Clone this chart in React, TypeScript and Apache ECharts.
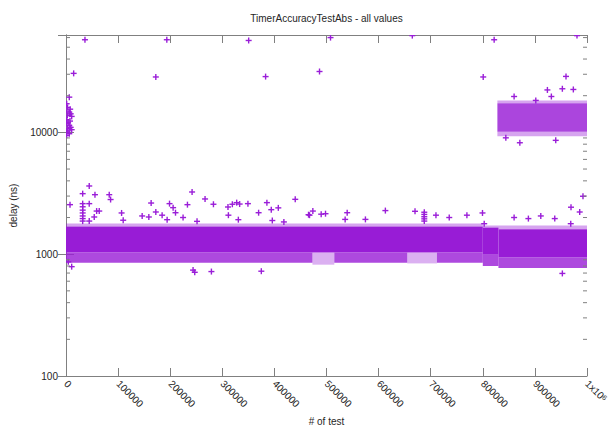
import React, { useEffect, useRef } from 'react';
import * as echarts from 'echarts';

const TITLE = 'TimerAccuracyTestAbs - all values';
const X_NAME = '# of test';
const Y_NAME = 'delay (ns)';
const PURPLE = '#9a1ed8';
const FILL = '#981cd6';
const FRAME = '#808080';
const TEXT = '#262626';

const xTicks = [0, 100000, 200000, 300000, 400000, 500000, 600000, 700000, 800000, 900000, 1000000];
const xTickLabels = ['0', '100000', '200000', '300000', '400000', '500000', '600000', '700000', '800000', '900000', '1x10{sup|6}'];
const yTicks = [100, 1000, 10000];
const yTickLabels = ['100', '1000', '10000'];
const yMinorTicks = [200, 300, 400, 500, 600, 700, 800, 900, 2000, 3000, 4000, 5000, 6000, 7000, 8000, 9000, 20000, 30000, 40000, 50000, 60000];
const X_MAX = 1000000;
const Y_MIN = 100;
const Y_MAX = 63000;

// Densely over-plotted regions: [xFrom, xTo, yFrom, yTo]
const denseCore = [
  [0, 800000, 1030, 1690],
  [800000, 830000, 990, 1650],
  [830000, 1000000, 940, 1600],
];
const denseLowerFringe = [
  [0, 473000, 850, 1030],
  [515000, 655000, 850, 1030],
  [712000, 800000, 850, 1030],
  [800000, 830000, 800, 990],
  [830000, 1000000, 770, 940],
];
const sparseLowerFringe = [
  [473000, 515000, 820, 1030],
  [655000, 712000, 840, 1030],
];
const denseUpperFringe = [
  [0, 800000, 1690, 1790],
  [800000, 1000000, 1600, 1720],
];
const denseClusters = [
  [828000, 1000000, 10100, 17300],
];
const clusterFringe = [
  [828000, 1000000, 17300, 18300],
  [828000, 1000000, 9300, 10100],
];

// Isolated points: [test number, delay ns]
const outliers = [
  [36400, 57600], [193500, 57600], [350600, 56800], [507700, 60000], [664700, 62300], [821800, 57600], [980800, 62300],
  [14700, 30500], [172400, 28500], [383100, 28700], [486600, 31600], [800800, 28500], [959700, 28800],
  [924000, 22300], [952700, 22800], [973800, 22500], [860100, 19700], [931600, 19700], [901700, 18300],
  [6300, 19460], [1300, 17180], [0, 14950], [6300, 14660], [2500, 13780], [10900, 13520], [1300, 12700],
  [7700, 12380], [0, 11780], [6300, 11410], [2500, 10720], [10900, 10520], [0, 10050], [6300, 9750], [1300, 9450],
  [3000, 16000], [8000, 15500], [4000, 12000], [9000, 11000], [3500, 10300], [9000, 14200],
  [871100, 8220], [844200, 9020], [940000, 8600],
  [7700, 2550], [32000, 3140], [32000, 2600], [32000, 2450], [32000, 2300], [32000, 2180], [32000, 2060], [32000, 1960], [32000, 1870],
  [44600, 3630], [44600, 2600], [44600, 1870], [55600, 3080], [54200, 2020], [58800, 2260], [63800, 2260],
  [83000, 3080], [85600, 2810], [106700, 2180], [109800, 1900], [146200, 2060], [159000, 2020], [163400, 2630],
  [172400, 2220], [184500, 2090], [194100, 1920], [198700, 2600], [205600, 2410], [210200, 2190], [224700, 2000],
  [233100, 2550], [242000, 3240], [251500, 1860], [266900, 2840], [283000, 2570], [310900, 2440], [311700, 2090],
  [319300, 2570], [327600, 2650], [330800, 1920], [333300, 2580], [349200, 2600], [369700, 2190], [385600, 2650],
  [394000, 2320], [396000, 1890], [407500, 2400], [418200, 1840], [440000, 2820], [465500, 2110], [467400, 2090],
  [473800, 2260], [489800, 2130], [498100, 2150], [535800, 1930], [539700, 2190], [574700, 1930], [613000, 2280],
  [669900, 2250], [687700, 2210], [687700, 2120], [687700, 2030], [687700, 1950], [687700, 1870],
  [710100, 2090], [735600, 2000], [769500, 2090], [799400, 2180], [802700, 1780], [860100, 2000], [887500, 1960],
  [911300, 2060], [938100, 1960], [968800, 1780], [986000, 2220], [992300, 2990], [969300, 2430],
  [4400, 865], [10900, 790], [243900, 740], [247100, 710], [279100, 720], [374900, 725], [952700, 695],
];

function rectSeries(data: number[][], opacity: number, z: number) {
  return {
    type: 'custom',
    data,
    clip: true,
    silent: true,
    z,
    encode: { x: [0, 1], y: [2, 3] },
    renderItem: (_p: any, api: any) => {
      const a = api.coord([api.value(0), api.value(3)]);
      const b = api.coord([api.value(1), api.value(2)]);
      return {
        type: 'rect',
        shape: { x: a[0], y: a[1], width: b[0] - a[0], height: b[1] - a[1] },
        style: { fill: FILL, opacity },
      };
    },
  };
}

export default function App() {
  const ref = useRef<HTMLDivElement>(null);
  useEffect(() => {
    if (!ref.current) return;
    const chart = echarts.init(ref.current, null, { renderer: 'svg' });
    const font = 'Liberation Sans, Arial, sans-serif';
    const xLabelFmt = (v: number) => {
      const i = xTicks.indexOf(Math.round(v));
      return i >= 0 ? xTickLabels[i] : '';
    };
    const yLabelFmt = (v: number) => {
      const i = yTicks.indexOf(Math.round(v));
      return i >= 0 ? yTickLabels[i] : '';
    };
    const baseX = {
      type: 'value',
      min: 0,
      max: X_MAX,
      interval: 100000,
      splitLine: { show: false },
      axisLine: { show: true, lineStyle: { color: FRAME, width: 1 } },
      axisTick: { show: true, inside: true, length: 8, lineStyle: { color: FRAME } },
    };
    const baseY = {
      type: 'log',
      logBase: 10,
      min: Y_MIN,
      max: Y_MAX,
      splitLine: { show: false },
      axisLine: { show: true, lineStyle: { color: FRAME, width: 1 } },
      axisTick: { show: true, inside: true, length: 8, lineStyle: { color: FRAME } },
    };
    chart.setOption({
      animation: false,
      backgroundColor: '#ffffff',
      title: {
        text: TITLE,
        left: 321.5,
        top: 8,
        textAlign: 'center',
        textStyle: { fontFamily: font, fontSize: 10, fontWeight: 'normal', color: TEXT },
      },
      grid: { left: 66, right: 24, top: 35, bottom: 56, containLabel: false },
      xAxis: [
        {
          ...baseX,
          position: 'bottom',
          name: X_NAME,
          nameLocation: 'middle',
          nameGap: 38,
          nameTextStyle: { fontFamily: font, fontSize: 10, color: TEXT },
          axisLabel: {
            rotate: -45,
            margin: 6,
            fontFamily: font,
            fontSize: 10,
            color: TEXT,
            formatter: xLabelFmt,
            rich: { sup: { fontSize: 7, verticalAlign: 'top', fontFamily: font, color: TEXT } },
          },
        },
        { ...baseX, position: 'top', axisLabel: { show: false } },
      ],
      yAxis: [
        {
          ...baseY,
          position: 'left',
          name: Y_NAME,
          nameLocation: 'middle',
          nameGap: 48,
          nameTextStyle: { fontFamily: font, fontSize: 10, color: TEXT },
          axisLabel: { margin: 8, fontFamily: font, fontSize: 10, color: TEXT, formatter: yLabelFmt, showMaxLabel: false },
        },
        { ...baseY, position: 'right', axisLabel: { show: false } },
      ],
      series: [
        rectSeries(denseUpperFringe, 0.4, 1),
        rectSeries(clusterFringe, 0.4, 1),
        rectSeries(denseLowerFringe, 0.8, 1),
        rectSeries(sparseLowerFringe, 0.35, 1),
        rectSeries(denseCore, 1, 2),
        rectSeries(denseClusters, 0.82, 2),
        {
          type: 'custom',
          data: outliers,
          clip: true,
          silent: true,
          z: 3,
          encode: { x: 0, y: 1 },
          renderItem: (_p: any, api: any) => {
            const c = api.coord([api.value(0), api.value(1)]);
            const x = c[0];
            const y = c[1];
            const s = { stroke: PURPLE, lineWidth: 1.4 };
            return {
              type: 'group',
              children: [
                { type: 'line', shape: { x1: x - 3, y1: y, x2: x + 3, y2: y }, style: s },
                { type: 'line', shape: { x1: x, y1: y - 3, x2: x, y2: y + 3 }, style: s },
              ],
            };
          },
        },
        {
          type: 'custom',
          data: yMinorTicks.map((v) => [0, v]),
          silent: true,
          z: 4,
          encode: { x: 0, y: 1 },
          renderItem: (_p: any, api: any) => {
            const l = api.coord([0, api.value(1)]);
            const r = api.coord([X_MAX, api.value(1)]);
            const s = { stroke: FRAME, lineWidth: 1 };
            return {
              type: 'group',
              children: [
                { type: 'line', shape: { x1: l[0], y1: l[1], x2: l[0] + 4, y2: l[1] }, style: s },
                { type: 'line', shape: { x1: r[0], y1: r[1], x2: r[0] - 4, y2: r[1] }, style: s },
              ],
            };
          },
        },
      ],
    });
    return () => chart.dispose();
  }, []);
  return <div ref={ref} style={{ position: 'fixed', left: 0, top: 0, width: 611, height: 432 }} />;
}
